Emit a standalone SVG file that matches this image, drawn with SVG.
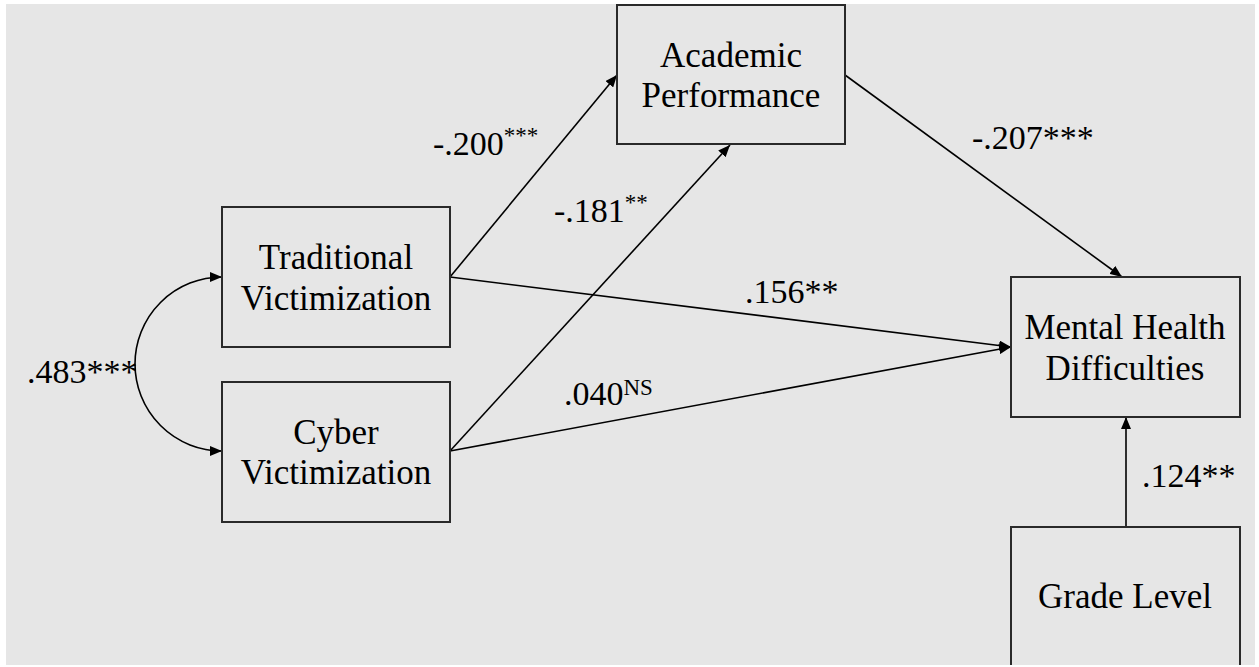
<svg xmlns="http://www.w3.org/2000/svg" width="1259" height="667" viewBox="0 0 1259 667">
<style>
.box{fill:none;stroke:#2a2a2a;stroke-width:2}
.t{font-family:"Liberation Serif","Times New Roman",serif;font-size:34px;fill:#000}
.n{font-size:35px}
.c{text-anchor:middle}
.ln{fill:none;stroke:#000;stroke-width:1.6}
.sup{font-size:23px}
</style>
<defs>
<marker id="ah" viewBox="0 0 12 10" refX="12" refY="5" markerWidth="12" markerHeight="10" markerUnits="userSpaceOnUse" orient="auto-start-reverse">
<path d="M0,0 L12,5 L0,10 z" fill="#000"/>
</marker>
</defs>
<rect x="0" y="0" width="1259" height="667" fill="#fff"/>
<rect x="6" y="4" width="1249" height="661" fill="#e6e6e6"/>

<g id="connectors">
<path class="ln" d="M222,277 A87,87 0 0 0 222,451" marker-start="url(#ah)" marker-end="url(#ah)"/>
<line class="ln" x1="450" y1="277" x2="617" y2="75" marker-end="url(#ah)"/>
<line class="ln" x1="450" y1="451" x2="730" y2="145" marker-end="url(#ah)"/>
<line class="ln" x1="450" y1="277" x2="1011" y2="347" marker-end="url(#ah)"/>
<line class="ln" x1="450" y1="451" x2="1011" y2="347" marker-end="url(#ah)"/>
<line class="ln" x1="845" y1="75" x2="1122" y2="277" marker-end="url(#ah)"/>
<line class="ln" x1="1126" y1="527" x2="1126" y2="417" marker-end="url(#ah)"/>
</g>

<g id="traditional">
<rect class="box" x="222" y="207" width="228" height="140"/>
<text class="t n c" x="336" y="269">Traditional</text>
<text class="t n c" x="336" y="310">Victimization</text>
</g>
<g id="cyber">
<rect class="box" x="222" y="382" width="228" height="140"/>
<text class="t n c" x="336" y="444">Cyber</text>
<text class="t n c" x="336" y="484">Victimization</text>
</g>
<g id="academic">
<rect class="box" x="617" y="5" width="228" height="139"/>
<text class="t n c" x="731" y="67">Academic</text>
<text class="t n c" x="731" y="107">Performance</text>
</g>
<g id="mental">
<rect class="box" x="1011" y="277" width="229" height="140"/>
<text class="t n c" x="1125" y="339">Mental Health</text>
<text class="t n c" x="1125" y="380">Difficulties</text>
</g>
<g id="grade">
<path class="box" d="M1011,665 V527 H1240 V665"/>
<text class="t n c" x="1125" y="608">Grade Level</text>
</g>

<g id="labels">
<text class="t" x="433" y="155">-.200<tspan class="sup" dy="-12">***</tspan></text>
<text class="t" x="554" y="222">-.181<tspan class="sup" dy="-12">**</tspan></text>
<text class="t" x="745" y="303">.156**</text>
<text class="t" x="972" y="149">-.207***</text>
<text class="t" x="27" y="383">.483***</text>
<text class="t" x="564" y="405">.040<tspan class="sup" dy="-10">NS</tspan></text>
<text class="t" x="1142" y="487">.124**</text>
</g>
</svg>
